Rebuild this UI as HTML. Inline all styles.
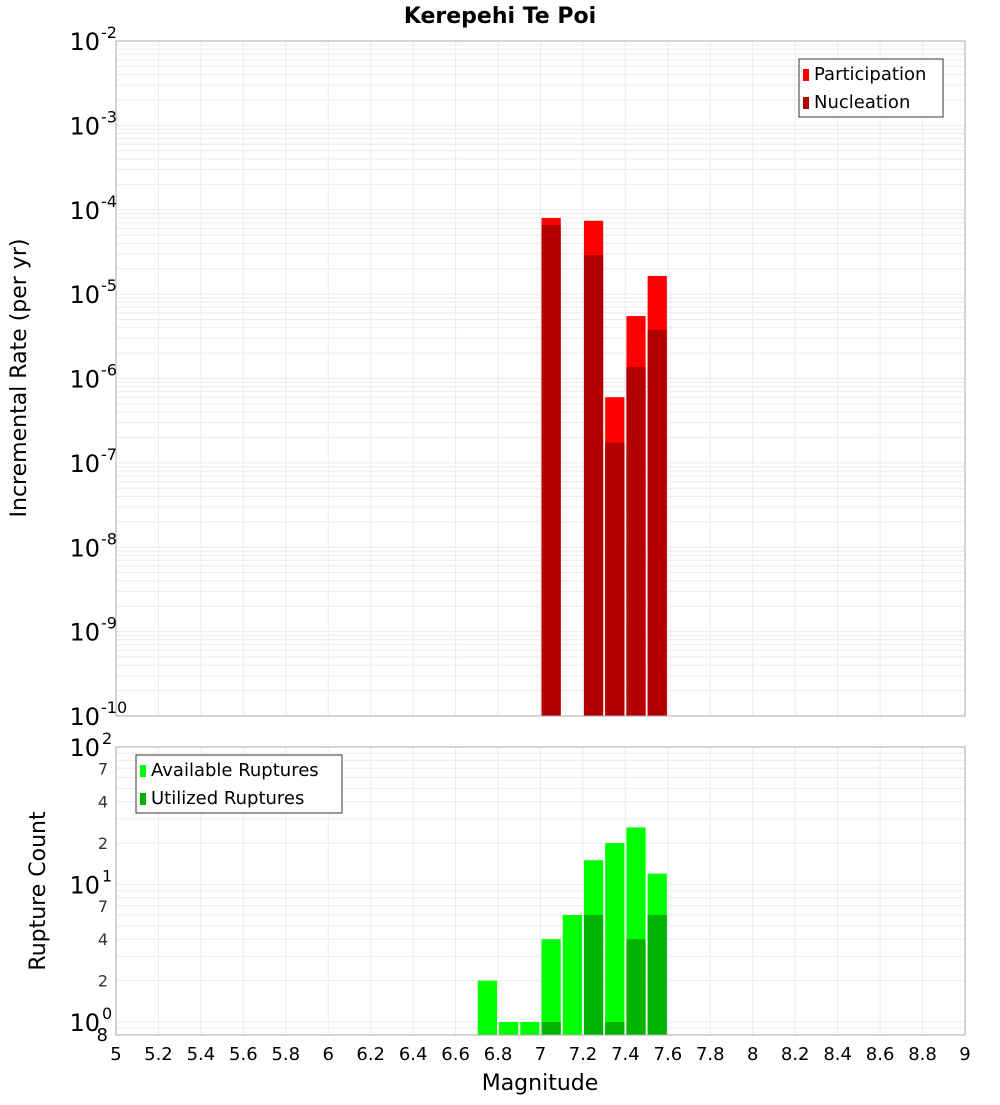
<!DOCTYPE html>
<html><head><meta charset="utf-8"><style>
body{margin:0;background:#fff;font-family:"Liberation Sans","DejaVu Sans",sans-serif}
svg text{font-family:"DejaVu Sans","Liberation Sans",sans-serif}
</style></head><body>
<svg id="c" width="1000" height="1100" xmlns="http://www.w3.org/2000/svg">
<text x="500" y="23" text-anchor="middle" font-size="22" font-weight="bold">Kerepehi Te Poi</text>
<g id="top"></g>
<g id="bot"></g>
<text transform="translate(26,378) rotate(-90)" text-anchor="middle" font-size="22">Incremental Rate (per yr)</text>
<text transform="translate(45,891) rotate(-90)" text-anchor="middle" font-size="22">Rupture Count</text>
<text x="540" y="1090" text-anchor="middle" font-size="22">Magnitude</text>
</svg>
<script>
const rateMags=[7.05,7.25,7.35,7.45,7.55];
const participation=[8.0e-5,7.4e-5,6.0e-7,5.5e-6,1.64e-5];
const nucleation=[6.6e-5,2.9e-5,1.73e-7,1.37e-6,3.77e-6];
const countMags=[6.75,6.85,6.95,7.05,7.15,7.25,7.35,7.45,7.55];
const available=[2,1,1,4,6,15,20,26,12];
const utilized=[0,0,0,1,0,6,1,4,6];
const xTicks=[5,5.2,5.4,5.6,5.8,6,6.2,6.4,6.6,6.8,7,7.2,7.4,7.6,7.8,8,8.2,8.4,8.6,8.8,9];
const topExps=[-2,-3,-4,-5,-6,-7,-8,-9,-10];
const botMinor=[7,4,2];

const NS="http://www.w3.org/2000/svg";
const svg=document.getElementById('c');
const X0=116,X1=965;
const x=m=>X0+(m-5)/4*(X1-X0);
const TY0=41,TY1=716;
const yT=v=>TY0+(-2-Math.log10(v))/8*(TY1-TY0);
const BY0=747,BY1=1035;
const yB=v=>1022-Math.log10(v)*137.5;
function el(t,a,p){const e=document.createElementNS(NS,t);for(const k in a)e.setAttribute(k,a[k]);(p||svg).appendChild(e);return e;}
const topG=document.getElementById('top'),botG=document.getElementById('bot');
const gc='#ebebeb';
for(let d=-10;d<-2;d++)for(let k=1;k<10;k++){const v=k*Math.pow(10,d);const yy=yT(v);if(yy<TY0||yy>TY1)continue;
const l=el('line',{x1:X0,x2:X1,y1:yy,y2:yy,stroke:gc,'stroke-width':1},topG);

}
for(let d=-1;d<2;d++)for(let k=1;k<10;k++){const v=k*Math.pow(10,d);const yy=yB(v);if(yy<BY0||yy>BY1)continue;
const l=el('line',{x1:X0,x2:X1,y1:yy,y2:yy,stroke:gc,'stroke-width':1},botG);

}
xTicks.forEach(t=>{[[TY0,TY1,topG],[BY0,BY1,botG]].forEach(([a,b,g])=>{
const l=el('line',{x1:x(t),x2:x(t),y1:a,y2:b,stroke:gc,'stroke-width':1},g);

});
const tx=el('text',{x:x(t),y:1060,'text-anchor':'middle','font-size':18});tx.textContent=String(t);

});
rateMags.forEach((m,i)=>{
const r=el('rect',{x:x(m-0.05)+1,width:x(m+0.05)-x(m-0.05)-2,y:yT(participation[i]),height:TY1-yT(participation[i]),fill:'#ff0000'},topG);


const n=el('rect',{x:x(m-0.05)+1,width:x(m+0.05)-x(m-0.05)-2,y:yT(nucleation[i]),height:TY1-yT(nucleation[i]),fill:'#b30000'},topG);

});
countMags.forEach((m,i)=>{
const r=el('rect',{x:x(m-0.05)+1,width:x(m+0.05)-x(m-0.05)-2,y:yB(available[i]),height:BY1-yB(available[i]),fill:'#00ff00'},botG);


if(utilized[i]>0){const n=el('rect',{x:x(m-0.05)+1,width:x(m+0.05)-x(m-0.05)-2,y:yB(utilized[i]),height:BY1-yB(utilized[i]),fill:'#00b300'},botG);

}});
const f1=el('rect',{x:X0,y:TY0,width:X1-X0,height:TY1-TY0,fill:'none',stroke:'#aaa'});


const f2=el('rect',{x:X0,y:BY0,width:X1-X0,height:BY1-BY0,fill:'none',stroke:'#aaa'});


topExps.forEach(e=>{const yy=yT(Math.pow(10,e));
const t=el('text',{x:100,y:yy+9,'text-anchor':'end','font-size':24});t.textContent='10';


const s=el('text',{x:101,y:yy-3,'font-size':16});s.textContent=String(e);

});
[[2,'2'],[1,'1'],[0,'0']].forEach(([e,s0])=>{const yy=yB(Math.pow(10,e));
const t=el('text',{x:100,y:yy+9,'text-anchor':'end','font-size':24});t.textContent='10';


const s=el('text',{x:102,y:yy-3,'font-size':16});s.textContent=s0;

});
[1,10].forEach(d=>botMinor.forEach(k=>{const yy=yB(k*d);
const t=el('text',{x:108,y:yy+6,'text-anchor':'end','font-size':16,fill:'#333'});t.textContent=String(k);

}));
const t8=el('text',{x:108,y:1041,'text-anchor':'end','font-size':18});t8.textContent='8';


function legend(x0,y0,w,items,name){const g=el('g',{});


el('rect',{x:x0,y:y0,width:w,height:58,fill:'#fff',stroke:'#333'},g);
items.forEach(([c,l],i)=>{el('rect',{x:x0+4,y:y0+10+i*28,width:6,height:12,fill:c},g);
const t=el('text',{x:x0+15,y:y0+21+i*28,'font-size':18},g);t.textContent=l;

});}
legend(799,59,144,[['#ff0000','Participation'],['#b30000','Nucleation']],'top-legend');
legend(136,755,206,[['#00ff00','Available Ruptures'],['#00b300','Utilized Ruptures']],'bottom-legend');
</script>
</body></html>
